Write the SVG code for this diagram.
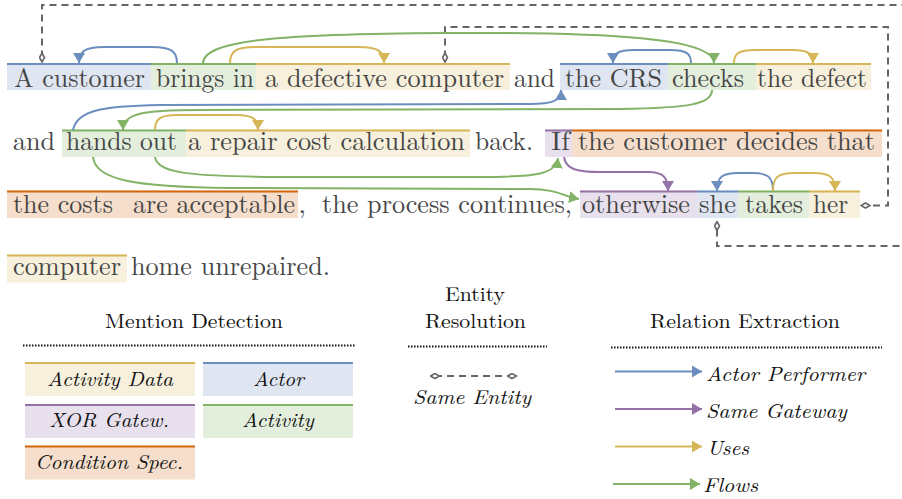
<svg xmlns="http://www.w3.org/2000/svg" width="902" height="499" viewBox="0 0 902 499">
<style>
.t,.h,.i{font-family:"Latin Modern Roman","CMU Serif","Liberation Serif","Tinos","Times New Roman","Noto Serif","DejaVu Serif","FreeSerif","Nimbus Roman","Nimbus Roman No9 L",Times,serif}
.t{font-size:26.5px;fill:#454545}
.h{font-size:20px;fill:#111}
.i{font-size:20px;font-style:italic;fill:#111}
.actor{fill:#dfe6f1}.actorL{stroke:#6c8ebf;stroke-width:2}
.act{fill:#e4eedd}.actL{stroke:#82b366;stroke-width:2}
.dat{fill:#f6f0dd}.datL{stroke:#d6b656;stroke-width:2}
.xor{fill:#e8e0ec}.xorL{stroke:#9673a6;stroke-width:2}
.cnd{fill:#f5dfcc}.cndL{stroke:#d5670f;stroke-width:2}
.c{fill:none;stroke-width:2}
.cb{stroke:#6c8ebf}.cg{stroke:#82b366}.cy{stroke:#d6b656}.cp{stroke:#9673a6}
.se{fill:none;stroke:#666;stroke-width:2;stroke-dasharray:7 5}
.dot{stroke:#111;stroke-width:2;stroke-dasharray:1.5 1.5}
</style>
<defs>
<marker id="aB" viewBox="0 0 10 12" refX="10" refY="6" markerWidth="10" markerHeight="12" markerUnits="userSpaceOnUse" orient="auto"><path d="M0,0 L10,6 L0,12 Z" fill="#6c8ebf"/></marker>
<marker id="aG" viewBox="0 0 10 12" refX="10" refY="6" markerWidth="10" markerHeight="12" markerUnits="userSpaceOnUse" orient="auto"><path d="M0,0 L10,6 L0,12 Z" fill="#82b366"/></marker>
<marker id="aY" viewBox="0 0 10 12" refX="10" refY="6" markerWidth="10" markerHeight="12" markerUnits="userSpaceOnUse" orient="auto"><path d="M0,0 L10,6 L0,12 Z" fill="#d6b656"/></marker>
<marker id="aP" viewBox="0 0 10 12" refX="10" refY="6" markerWidth="10" markerHeight="12" markerUnits="userSpaceOnUse" orient="auto"><path d="M0,0 L10,6 L0,12 Z" fill="#9673a6"/></marker>
<marker id="dm" viewBox="0 0 11 7" refX="5.5" refY="3.5" markerWidth="11" markerHeight="7" markerUnits="userSpaceOnUse" orient="auto"><path d="M1,3.5 L5.5,1 L10,3.5 L5.5,6 Z" fill="#fff" stroke="#666" stroke-width="1.6"/></marker>
</defs>

<!-- Row 1 -->
<g id="m-a-customer"><rect class="actor" x="7" y="63" width="144" height="27"/><line class="actorL" x1="7" y1="64" x2="151" y2="64"/><text class="t" x="14" y="86.5" textLength="131" lengthAdjust="spacingAndGlyphs">A customer</text></g>
<g id="m-brings-in"><rect class="act" x="151" y="63" width="105" height="27"/><line class="actL" x1="151" y1="64" x2="256" y2="64"/><text class="t" x="156" y="86.5" textLength="98" lengthAdjust="spacingAndGlyphs">brings in</text></g>
<g id="m-defective-computer"><rect class="dat" x="256" y="63" width="254" height="27"/><line class="datL" x1="256" y1="64" x2="510" y2="64"/><text class="t" x="265" y="86.5" textLength="239" lengthAdjust="spacingAndGlyphs">a defective computer</text></g>
<text class="t" x="514" y="86.5" textLength="41" lengthAdjust="spacingAndGlyphs">and</text>
<g id="m-the-crs"><rect class="actor" x="560" y="63" width="108" height="27"/><line class="actorL" x1="560" y1="64" x2="668" y2="64"/><text class="t" x="565" y="86.5" textLength="97" lengthAdjust="spacingAndGlyphs">the CRS</text></g>
<g id="m-checks"><rect class="act" x="668" y="63" width="88" height="27"/><line class="actL" x1="668" y1="64" x2="756" y2="64"/><text class="t" x="672" y="86.5" textLength="72" lengthAdjust="spacingAndGlyphs">checks</text></g>
<g id="m-the-defect"><rect class="dat" x="756" y="63" width="115" height="27"/><line class="datL" x1="756" y1="64" x2="871" y2="64"/><text class="t" x="757" y="86.5" textLength="110" lengthAdjust="spacingAndGlyphs">the defect</text></g>

<!-- Row 2 -->
<text class="t" x="13" y="149.5" textLength="42" lengthAdjust="spacingAndGlyphs">and</text>
<g id="m-hands-out"><rect class="act" x="62" y="129.5" width="124" height="27.5"/><line class="actL" x1="62" y1="130.5" x2="186" y2="130.5"/><text class="t" x="66" y="149.5" textLength="111" lengthAdjust="spacingAndGlyphs">hands out</text></g>
<g id="m-repair-cost"><rect class="dat" x="186" y="129.5" width="284" height="27.5"/><line class="datL" x1="186" y1="130.5" x2="470" y2="130.5"/><text class="t" x="188" y="149.5" textLength="277" lengthAdjust="spacingAndGlyphs">a repair cost calculation</text></g>
<text class="t" x="475" y="149.5" textLength="58" lengthAdjust="spacingAndGlyphs">back.</text>
<g id="m-if"><rect class="xor" x="545" y="129.5" width="27" height="27.5"/><line class="xorL" x1="545" y1="130.5" x2="572" y2="130.5"/><text class="t" x="551" y="149.5" textLength="19" lengthAdjust="spacingAndGlyphs">If</text></g>
<g id="m-customer-decides"><rect class="cnd" x="572" y="129.5" width="310" height="27.5"/><line class="cndL" x1="572" y1="130.5" x2="882" y2="130.5"/><text class="t" x="578" y="149.5" textLength="297" lengthAdjust="spacingAndGlyphs">the customer decides that</text></g>

<!-- Row 3 -->
<g id="m-costs-acceptable"><rect class="cnd" x="7" y="190.5" width="291" height="27.5"/><line class="cndL" x1="7" y1="191.5" x2="298" y2="191.5"/><text class="t" y="212.5"><tspan x="13" textLength="100" lengthAdjust="spacingAndGlyphs">the costs</tspan><tspan x="133" textLength="162" lengthAdjust="spacingAndGlyphs">are acceptable</tspan></text></g>
<text class="t" y="212.5"><tspan x="298.5">,</tspan><tspan x="322" textLength="250" lengthAdjust="spacingAndGlyphs">the process continues,</tspan></text>
<g id="m-otherwise"><rect class="xor" x="580" y="190.5" width="117" height="27.5"/><line class="xorL" x1="580" y1="191.5" x2="697" y2="191.5"/><text class="t" x="582" y="212.5" textLength="108" lengthAdjust="spacingAndGlyphs">otherwise</text></g>
<g id="m-she"><rect class="actor" x="697" y="190.5" width="41" height="27.5"/><line class="actorL" x1="697" y1="191.5" x2="738" y2="191.5"/><text class="t" x="699" y="212.5" textLength="37" lengthAdjust="spacingAndGlyphs">she</text></g>
<g id="m-takes"><rect class="act" x="738" y="190.5" width="71" height="27.5"/><line class="actL" x1="738" y1="191.5" x2="809" y2="191.5"/><text class="t" x="745" y="212.5" textLength="58" lengthAdjust="spacingAndGlyphs">takes</text></g>
<g id="m-her"><rect class="dat" x="809" y="190.5" width="51" height="27.5"/><line class="datL" x1="809" y1="191.5" x2="860" y2="191.5"/><text class="t" x="813" y="212.5" textLength="35" lengthAdjust="spacingAndGlyphs">her</text></g>

<!-- Row 4 -->
<g id="m-computer"><rect class="dat" x="7" y="254.5" width="120" height="28"/><line class="datL" x1="7" y1="255.5" x2="127" y2="255.5"/><text class="t" x="13" y="275" textLength="108" lengthAdjust="spacingAndGlyphs">computer</text></g>
<text class="t" x="131" y="275" textLength="199" lengthAdjust="spacingAndGlyphs">home unrepaired.</text>

<!-- Connectors -->
<g id="connectors">
<path class="se" d="M42,57.5 L42,5 L906,5 L906,246 L717,246 L717,226" marker-start="url(#dm)" marker-end="url(#dm)"/>
<path class="se" d="M445,57.5 L445,27 L888,27 L888,205.5 L865.5,205.5" marker-start="url(#dm)" marker-end="url(#dm)"/>
<path class="c cb" d="M177,63 C177,52 172,47 152,47 L104,47 C84,47 79,52 79,63" marker-end="url(#aB)"/>
<path class="c cy" d="M230,63 C230,52 235,47 255,47 L359,47 C379,47 384,52 384,63" marker-end="url(#aY)"/>
<path class="c cg" d="M203,63 C204,40 280,34 445,33 C610,32 714,38 714,63" marker-end="url(#aG)"/>
<path class="c cb" d="M691,63 C691,54 687,50 670,50 L634,50 C617,50 613,54 613,63" marker-end="url(#aB)"/>
<path class="c cy" d="M734,63 C734,54 738,50 755,50 L792,50 C809,50 813,54 813,63" marker-end="url(#aY)"/>
<path class="c cb" d="M73,130 C77,111 100,106 160,105 L530,104 C552,104 561,101 561,90" marker-end="url(#aB)"/>
<path class="c cg" d="M712,90 C712,104 690,108 620,109 L200,110 C140,110 123,114 123,130" marker-end="url(#aG)"/>
<path class="c cy" d="M155,130 C155,119 160,115 177,115 L236,115 C253,115 258,119 258,130" marker-end="url(#aY)"/>
<path class="c cg" d="M155,157 C157,174 195,177 300,177 L480,177 C538,177 556,174 558,158" marker-end="url(#aG)"/>
<path class="c cg" d="M93,157 C95,180 135,187 230,188 L530,189 C556,189 563,196 579,199" marker-end="url(#aG)"/>
<path class="c cp" d="M564,157 C566,169 576,172 600,172 L648,172 C663,172 668,177 668,191" marker-end="url(#aP)"/>
<path class="c cb" d="M773,191 C773,177 768,173 752,173 L738,173 C722,173 717,177 717,191" marker-end="url(#aB)"/>
<path class="c cy" d="M773,191 C773,177 778,173 794,173 L814,173 C830,173 835,177 835,191" marker-end="url(#aY)"/>
</g>

<!-- Legend: Mention Detection -->
<g id="legend-mention">
<text class="h" x="105" y="328" textLength="178" lengthAdjust="spacingAndGlyphs">Mention Detection</text>
<line class="dot" x1="23" y1="345.5" x2="356" y2="345.5"/>
<g id="lg-activity-data"><rect class="dat" x="25" y="362" width="170" height="34"/><line class="datL" x1="25" y1="363" x2="195" y2="363" stroke-width="2.5"/><text class="i" x="47" y="385.5" textLength="126" lengthAdjust="spacingAndGlyphs">Activity Data</text></g>
<g id="lg-actor"><rect class="actor" x="203" y="362" width="150" height="34"/><line class="actorL" x1="203" y1="363" x2="353" y2="363" stroke-width="2.5"/><text class="i" x="253" y="385.5" textLength="51" lengthAdjust="spacingAndGlyphs">Actor</text></g>
<g id="lg-xor"><rect class="xor" x="25" y="404" width="170" height="34"/><line class="xorL" x1="25" y1="405" x2="195" y2="405" stroke-width="2.5"/><text class="i" x="49" y="426.5" textLength="120" lengthAdjust="spacingAndGlyphs">XOR Gatew.</text></g>
<g id="lg-activity"><rect class="act" x="203" y="404" width="150" height="34"/><line class="actL" x1="203" y1="405" x2="353" y2="405" stroke-width="2.5"/><text class="i" x="242" y="426.5" textLength="72" lengthAdjust="spacingAndGlyphs">Activity</text></g>
<g id="lg-condition"><rect class="cnd" x="25" y="445.5" width="170" height="34"/><line class="cndL" x1="25" y1="446.5" x2="195" y2="446.5" stroke-width="2.5"/><text class="i" x="35" y="468.5" textLength="148" lengthAdjust="spacingAndGlyphs">Condition Spec.</text></g>
</g>

<!-- Legend: Entity Resolution -->
<g id="legend-entity">
<text class="h" x="445" y="300.5" textLength="60" lengthAdjust="spacingAndGlyphs">Entity</text>
<text class="h" x="425" y="328" textLength="101" lengthAdjust="spacingAndGlyphs">Resolution</text>
<line class="dot" x1="408" y1="346.5" x2="547" y2="346.5"/>
<path class="se" d="M435,376 L512,376" stroke-dasharray="6 5" marker-start="url(#dm)" marker-end="url(#dm)"/>
<text class="i" x="413" y="404" textLength="118" lengthAdjust="spacingAndGlyphs">Same Entity</text>
</g>

<!-- Legend: Relation Extraction -->
<g id="legend-relation">
<text class="h" x="650" y="328" textLength="190" lengthAdjust="spacingAndGlyphs">Relation Extraction</text>
<line class="dot" x1="611" y1="347.5" x2="882" y2="347.5"/>
<line class="c cb" x1="615" y1="371.5" x2="702" y2="371.5" marker-end="url(#aB)"/>
<text class="i" x="706" y="381" textLength="159" lengthAdjust="spacingAndGlyphs">Actor Performer</text>
<line class="c cp" x1="615" y1="409" x2="702" y2="409" marker-end="url(#aP)"/>
<text class="i" x="706" y="418" textLength="141" lengthAdjust="spacingAndGlyphs">Same Gateway</text>
<line class="c cy" x1="615" y1="446.5" x2="702" y2="446.5" marker-end="url(#aY)"/>
<text class="i" x="707" y="455" textLength="42" lengthAdjust="spacingAndGlyphs">Uses</text>
<line class="c cg" x1="613" y1="484" x2="700" y2="484" marker-end="url(#aG)"/>
<text class="i" x="703" y="492" textLength="55" lengthAdjust="spacingAndGlyphs">Flows</text>
</g>
</svg>
